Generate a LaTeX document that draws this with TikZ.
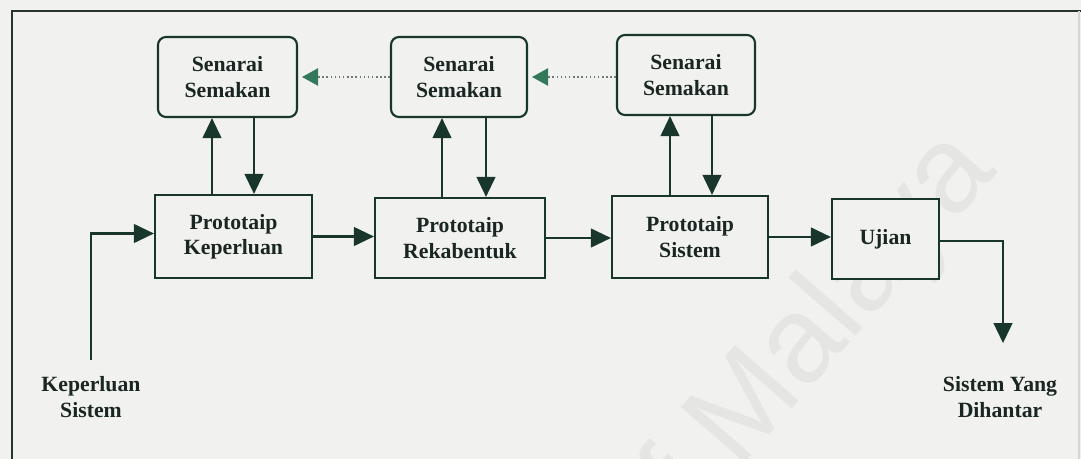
\documentclass[tikz,border=0pt]{standalone}
\usepackage{fontspec}
\setmainfont{Liberation Serif}
\newfontfamily\wmfont{Liberation Sans}
\usetikzlibrary{arrows.meta}
\definecolor{paper}{RGB}{241,242,239}
\definecolor{ink}{RGB}{24,54,44}
\definecolor{txt}{RGB}{26,38,34}
\definecolor{headgreen}{RGB}{52,120,92}
\definecolor{dotgray}{RGB}{110,124,118}
\definecolor{wm}{RGB}{229,230,228}
\definecolor{frame}{RGB}{40,52,48}
\tikzset{
  lbl/.style={font=\bfseries\fontsize{16.3}{19}\selectfont, text=txt, align=center},
  box/.style={lbl, draw=ink, line width=1.6pt, fill=paper, inner sep=0pt},
  roundbox/.style={box, rounded corners=6pt},
  flow/.style={draw=ink, line width=1.6pt, -{Triangle[length=15pt,width=14pt]}},
  feedback/.style={draw=dotgray, line width=1.1pt, dotted,
    -{Triangle[length=12pt,width=13pt,color=headgreen]}, shorten >=3pt},
}
\begin{document}
\begin{tikzpicture}[x=0.75pt,y=-0.75pt]
  % page and frame
  \fill[paper] (0,0) rectangle (1081,459);
  \useasboundingbox (0,0) rectangle (1081,459);
  \node[font=\wmfont\fontsize{92}{92}\selectfont, text=wm, rotate=49] (wmark) at (800,352) {of Malaya};
  \draw[frame, line width=1.3pt] (12,459) -- (12,11) -- (1081,11);
  \draw[frame!20, line width=0.8pt] (1079,11) -- (1079,459);

  % checklist boxes
  \node[roundbox, minimum width=139*0.75pt, minimum height=80*0.75pt] (s1) at (227.5,77) {Senarai\\Semakan};
  \node[roundbox, minimum width=136*0.75pt, minimum height=80*0.75pt] (s2) at (459,77) {Senarai\\Semakan};
  \node[roundbox, minimum width=138*0.75pt, minimum height=80*0.75pt] (s3) at (686,75) {Senarai\\Semakan};

  % prototype stages
  \node[box, minimum width=157*0.75pt, minimum height=83*0.75pt] (pk) at (233.5,236.5) {Prototaip\\Keperluan};
  \node[box, minimum width=170*0.75pt, minimum height=80*0.75pt] (pr) at (460,238) {Prototaip\\Rekabentuk};
  \node[box, minimum width=156*0.75pt, minimum height=82*0.75pt] (ps) at (690,237) {Prototaip\\Sistem};
  \node[box, minimum width=107*0.75pt, minimum height=80*0.75pt] (uj) at (885.5,239) {Ujian};

  % input and output labels
  \node[lbl, inner sep=0pt] (kin) at (91,397) {Keperluan\\Sistem};
  \node[lbl, inner sep=0pt] (kout) at (1000,397) {Sistem Yang\\Dihantar};

  % x positions of the up/down links
  \coordinate (u1) at (212,0);  \coordinate (d1) at (254,0);
  \coordinate (u2) at (442,0);  \coordinate (d2) at (486,0);
  \coordinate (u3) at (670,0);  \coordinate (d3) at (712,0);
  \coordinate (outx) at (1003,0);

  % up/down links between stages and checklists
  \draw[flow] (pk.north -| u1) -- (s1.south -| u1);
  \draw[flow] (s1.south -| d1) -- (pk.north -| d1);
  \draw[flow] (pr.north -| u2) -- (s2.south -| u2);
  \draw[flow] (s2.south -| d2) -- (pr.north -| d2);
  \draw[flow] (ps.north -| u3) -- (s3.south -| u3);
  \draw[flow] (s3.south -| d3) -- (ps.north -| d3);

  % checklist feedback
  \draw[feedback] (s2.west) -- (s1.east);
  \draw[feedback] (s3.west |- s2.east) -- (s2.east);

  % main flow
  \draw[flow, shorten <=12pt] (kin.north) -- ([yshift=3*0.75pt]kin.north |- pk.west) -- ([yshift=3*0.75pt]pk.west);
  \draw[flow] (pk.east) -- (pk.east -| pr.west);
  \draw[flow] (pr.east) -- (pr.east -| ps.west);
  \draw[flow] (ps.east) -- (ps.east -| uj.west);
  \draw[flow, shorten >=25pt] ([yshift=-2*0.75pt]uj.east) -- ([yshift=-2*0.75pt]uj.east -| outx) -- (outx |- kout.north);
\end{tikzpicture}
\end{document}
